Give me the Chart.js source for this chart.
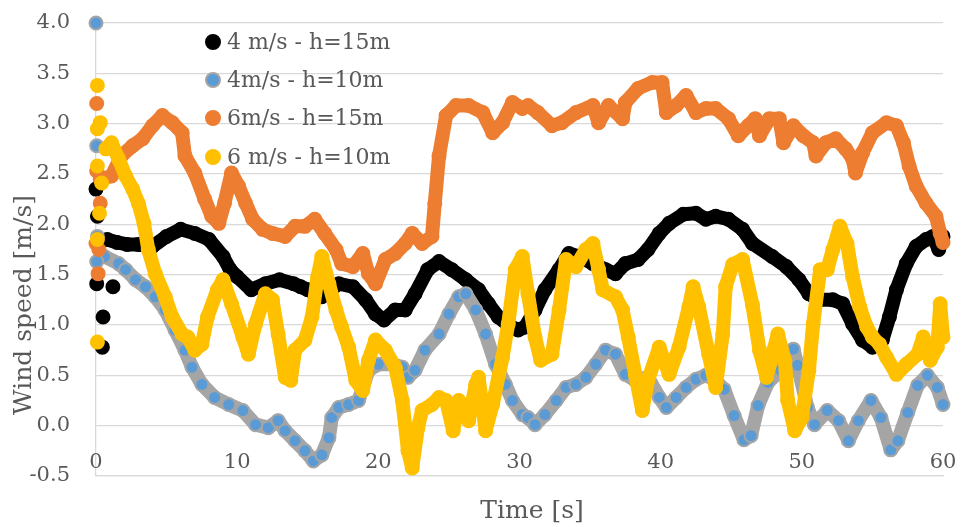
<!DOCTYPE html>
<html>
<head>
<meta charset="utf-8">
<script src="https://cdn.jsdelivr.net/npm/chart.js@4.4.1/dist/chart.umd.min.js"></script>
<style>
  html, body { margin: 0; padding: 0; background: #ffffff; }
  canvas { display: block; }
</style>
</head>
<body>
<canvas id="windChart" width="962" height="527"></canvas>
<script>
// ===== data =====
const seriesNames = ["4 m/s - h=15m", "4m/s - h=10m", "6m/s - h=15m", "6 m/s - h=10m"];
const xTicks = [0, 10, 20, 30, 40, 50, 60];
const yTicks = [-0.5, 0, 0.5, 1, 1.5, 2, 2.5, 3, 3.5, 4];

// loose points right at the start of each record [time, speed]
const blackStart = [[0.0, 2.35], [0.1, 2.08], [0.05, 1.41], [0.5, 1.08], [0.45, 0.78], [1.2, 1.38]];
const grayStart = [[0.0, 4.0], [0.05, 2.78], [0.1, 1.88], [0.05, 1.63]];
const orangeStart = [[0.05, 3.2], [0.05, 2.53], [0.3, 2.21], [0.0, 1.81], [0.2, 1.75], [0.15, 1.51]];
const yellowStart = [[0.1, 3.38], [0.3, 3.01], [0.1, 2.95], [0.1, 2.58], [0.4, 2.41], [0.25, 2.11], [0.1, 1.85], [0.1, 0.83]];

// 4 m/s - h=15m
const blackPts = [
  [0.8,1.85],[1.5,1.82],[2.2,1.8],[3.0,1.8],[4.0,1.78],[5.0,1.88],[6.0,1.95],[7.0,1.91],[8.0,1.85],
  [9.0,1.68],[9.5,1.55],[10.0,1.48],[11.0,1.35],[12.0,1.41],[13.0,1.45],[14.0,1.41],[14.5,1.38],
  [15.0,1.35],[16.0,1.28],[17.2,1.41],[18.2,1.38],[19.1,1.25],[19.8,1.11],[20.4,1.05],[21.2,1.15],
  [21.9,1.15],[22.6,1.31],[23.5,1.55],[24.3,1.63],[25.2,1.55],[26.2,1.45],[27.1,1.35],[27.8,1.21],
  [28.5,1.08],[29.2,1.0],[29.9,0.95],[30.4,0.98],[31.1,1.15],[31.8,1.35],[32.8,1.55],[33.5,1.71],
  [34.2,1.68],[35.2,1.61],[36.1,1.55],[36.8,1.51],[37.5,1.61],[38.4,1.65],[39.1,1.75],[39.9,1.91],
  [40.6,2.01],[41.6,2.1],[42.5,2.11],[43.2,2.05],[43.9,2.08],[44.8,2.05],[45.8,1.95],[46.5,1.81],
  [47.9,1.68],[48.9,1.58],[49.8,1.45],[50.5,1.31],[51.2,1.25],[52.2,1.25],[52.9,1.21],[53.6,1.01],
  [54.3,0.85],[55.0,0.78],[55.7,0.85],[56.2,1.08],[56.7,1.35],[57.4,1.61],[58.1,1.78],[58.8,1.85],
  [59.3,1.88],[59.7,1.75],[60.0,1.88]
];

// 4m/s - h=10m
const grayPts = [
  [0.6,1.68],[1.6,1.61],[2.1,1.55],[2.8,1.45],[3.5,1.38],[4.2,1.28],[4.9,1.15],[5.6,0.95],[6.3,0.75],
  [6.8,0.58],[7.5,0.41],[8.4,0.28],[9.4,0.21],[10.4,0.15],[11.3,0.01],[12.2,-0.02],[12.9,0.05],
  [13.4,-0.05],[14.1,-0.15],[14.8,-0.25],[15.4,-0.35],[16.0,-0.29],[16.5,-0.12],[16.7,0.08],
  [17.2,0.18],[17.9,0.21],[18.6,0.25],[18.9,0.38],[19.3,0.55],[20.0,0.61],[21.0,0.61],[21.7,0.58],
  [22.1,0.48],[22.6,0.55],[23.3,0.75],[24.3,0.91],[25.0,1.11],[25.7,1.28],[26.2,1.31],[26.9,1.15],
  [27.6,0.91],[28.3,0.61],[29.0,0.41],[29.5,0.25],[30.2,0.11],[30.6,0.08],[31.1,0.01],[31.8,0.11],
  [32.6,0.25],[33.3,0.38],[34.0,0.41],[34.7,0.48],[35.4,0.61],[36.1,0.75],[36.8,0.71],[37.5,0.51],
  [38.2,0.45],[39.1,0.48],[39.9,0.28],[40.4,0.18],[41.1,0.28],[41.8,0.38],[42.5,0.46],[43.2,0.5],
  [43.8,0.46],[44.5,0.36],[45.2,0.1],[45.9,-0.14],[46.4,-0.1],[46.9,0.2],[47.6,0.43],[48.5,0.55],
  [49.4,0.76],[49.7,0.6],[50.4,0.18],[50.9,0.01],[51.8,0.15],[52.6,0.05],[53.3,-0.15],[54.0,0.05],
  [54.9,0.25],[55.6,0.08],[56.3,-0.24],[56.8,-0.15],[57.5,0.13],[58.2,0.4],[58.9,0.5],[59.6,0.38],
  [60.0,0.21]
];

// 6m/s - h=15m
const orangePts = [
  [0.3,2.45],[1.1,2.48],[1.8,2.68],[2.6,2.78],[3.3,2.85],[4.0,2.98],[4.7,3.08],[5.4,3.01],[6.1,2.91],
  [6.3,2.68],[7.0,2.51],[7.7,2.25],[8.2,2.08],[8.7,2.01],[9.1,2.21],[9.6,2.51],[10.1,2.38],[10.6,2.21],
  [11.1,2.05],[11.8,1.95],[12.5,1.91],[13.4,1.88],[14.1,1.98],[14.8,1.98],[15.5,2.05],[16.2,1.91],
  [17.0,1.75],[17.4,1.61],[18.2,1.58],[18.9,1.71],[19.3,1.51],[19.8,1.41],[20.5,1.65],[21.2,1.71],
  [21.9,1.81],[22.4,1.91],[23.1,1.81],[23.8,1.88],[24.0,2.21],[24.3,2.68],[24.8,3.08],[25.5,3.18],
  [26.4,3.18],[27.4,3.11],[28.1,2.91],[28.8,3.01],[29.5,3.21],[30.2,3.15],[30.6,3.18],[31.3,3.11],
  [32.3,2.98],[33.0,3.01],[34.0,3.11],[35.2,3.18],[35.6,3.01],[36.3,3.18],[37.3,3.05],[37.5,3.21],
  [38.4,3.35],[39.4,3.41],[40.1,3.41],[40.4,3.11],[41.1,3.18],[41.8,3.28],[42.5,3.11],[43.2,3.15],
  [43.9,3.15],[44.8,3.05],[45.5,2.88],[46.2,2.98],[46.7,3.05],[47.0,2.88],[47.7,3.05],[48.4,3.05],
  [48.7,2.81],[49.4,2.98],[50.1,2.88],[50.8,2.81],[51.0,2.68],[51.7,2.81],[52.4,2.85],[53.1,2.75],
  [53.6,2.65],[53.8,2.51],[54.3,2.71],[55.0,2.91],[56.0,3.01],[56.7,2.98],[57.2,2.81],[57.6,2.58],
  [58.1,2.38],[58.8,2.21],[59.5,2.08],[59.8,1.91],[60.0,1.82]
];

// 6 m/s - h=10m
const yellowPts = [
  [0.7,2.75],[1.1,2.81],[1.6,2.65],[2.1,2.48],[2.6,2.35],[3.0,2.21],[3.4,2.01],[3.7,1.75],[4.2,1.51],
  [4.9,1.28],[5.4,1.08],[6.1,0.91],[6.5,0.88],[7.0,0.75],[7.5,0.81],[7.9,1.08],[8.6,1.35],[9.0,1.45],
  [9.6,1.21],[10.4,0.88],[10.8,0.71],[11.3,1.01],[12.0,1.31],[12.5,1.25],[12.9,0.91],[13.4,0.48],
  [13.8,0.45],[14.1,0.75],[14.8,0.85],[15.3,1.08],[15.7,1.48],[16.0,1.68],[16.5,1.41],[17.0,1.15],
  [17.4,0.98],[17.9,0.78],[18.4,0.45],[18.9,0.35],[19.3,0.65],[19.8,0.85],[20.5,0.75],[21.2,0.58],
  [21.7,0.25],[22.1,-0.25],[22.4,-0.42],[22.8,-0.02],[23.1,0.15],[23.8,0.21],[24.3,0.28],[24.8,0.25],
  [25.3,-0.05],[25.7,0.25],[26.4,0.05],[26.9,0.41],[27.1,0.48],[27.6,-0.05],[28.1,0.21],[28.8,0.68],
  [29.2,1.01],[29.7,1.55],[30.2,1.68],[30.6,1.31],[31.1,0.88],[31.5,0.65],[32.3,0.71],[32.8,1.15],
  [33.3,1.65],[34.0,1.58],[34.7,1.75],[35.2,1.81],[35.6,1.55],[35.9,1.35],[36.8,1.28],[37.3,1.15],
  [37.7,0.88],[38.2,0.51],[38.7,0.15],[39.1,0.45],[39.9,0.78],[40.6,0.51],[41.3,0.78],[42.0,1.18],
  [42.3,1.38],[42.7,1.18],[43.4,0.71],[43.9,0.38],[44.4,0.91],[44.6,1.38],[45.1,1.6],[45.8,1.65],
  [46.5,1.2],[47.0,0.75],[47.5,0.48],[48.0,0.75],[48.3,0.91],[48.8,0.65],[49.0,0.25],[49.5,-0.05],
  [50.0,0.08],[50.5,0.55],[50.8,1.01],[51.3,1.55],[51.8,1.55],[52.2,1.75],[52.7,1.98],[53.2,1.81],
  [53.6,1.48],[54.1,1.18],[54.6,0.98],[55.0,0.88],[55.5,0.81],[56.0,0.68],[56.7,0.51],[57.4,0.61],
  [58.2,0.71],[58.6,0.88],[59.1,0.65],[59.6,0.78],[59.8,1.21],[60.0,0.88]
];

// ===== styles =====
const FONT = "'DejaVu Serif', serif";
const TEXT = "#595959";
const GRID = "#d9d9d9";
const styles = [
    { line: "#000000", fill: "#000000", edge: "#000000" },
    { line: "#a5a5a5", fill: "#5b9bd5", edge: "#a5a5a5" },
    { line: "#ed7d31", fill: "#ed7d31", edge: "#ed7d31" },
    { line: "#ffc000", fill: "#ffc000", edge: "#ffc000" }
];

function toXY(pts) {
    return pts.map(p => ({ x: p[0], y: p[1] }));
}

function traceSet(pts, st, order) {
    return {
        data: toXY(pts),
        showLine: true,
        borderColor: st.line,
        borderWidth: 14,
        borderJoinStyle: "round",
        borderCapStyle: "round",
        pointRadius: 6.5,
        pointBackgroundColor: st.fill,
        pointBorderColor: st.edge,
        pointBorderWidth: 2,
        clip: false,
        order: order
    };
}

function dotSet(pts, st, order) {
    return {
        data: toXY(pts),
        showLine: false,
        pointRadius: 6.5,
        pointBackgroundColor: st.fill,
        pointBorderColor: st.edge,
        pointBorderWidth: 2,
        clip: false,
        order: order
    };
}

// legend, x tick labels and axis titles drawn inside the canvas, Excel style
const extras = {
    id: "extras",
    afterDraw(chart) {
        const ctx = chart.ctx;
        const xs = chart.scales.x;
        ctx.save();
        ctx.fillStyle = TEXT;

        // x tick labels sit just above the bottom line, like the original
        ctx.font = "21px " + FONT;
        ctx.textAlign = "center";
        ctx.textBaseline = "middle";
        xTicks.forEach(v => {
            ctx.fillText(String(v), xs.getPixelForValue(v), chart.chartArea.bottom - 13);
        });

        ctx.font = "22px " + FONT;
        ctx.textAlign = "left";
        const rows = [42, 80, 118, 157];
        seriesNames.forEach((name, i) => {
            ctx.beginPath();
            ctx.arc(213, rows[i], 7, 0, Math.PI * 2);
            ctx.fillStyle = styles[i].fill;
            ctx.fill();
            ctx.lineWidth = 2;
            ctx.strokeStyle = styles[i].edge;
            ctx.stroke();
            ctx.fillStyle = TEXT;
            ctx.fillText(name, 227, rows[i] + 1);
        });

        ctx.font = "25px " + FONT;
        ctx.textAlign = "center";
        ctx.fillText("Time [s]", 532, 511);

        ctx.translate(24, 305);
        ctx.rotate(-Math.PI / 2);
        ctx.fillText("Wind speed [m/s]", 0, 0);
        ctx.restore();
    }
};

const ctx = document.getElementById("windChart").getContext("2d");
window.windChart = new Chart(ctx, {
    type: "scatter",
    data: {
        datasets: [
            traceSet(blackPts, styles[0], 8),
            dotSet(blackStart, styles[0], 7),
            traceSet(grayPts, styles[1], 6),
            dotSet(grayStart, styles[1], 5),
            traceSet(orangePts, styles[2], 4),
            dotSet(orangeStart, styles[2], 3),
            traceSet(yellowPts, styles[3], 2),
            dotSet(yellowStart, styles[3], 1)
        ]
    },
    options: {
        responsive: false,
        animation: false,
        devicePixelRatio: 1,
        layout: { padding: { top: 23, right: 19, bottom: 0, left: 0 } },
        plugins: {
            legend: { display: false },
            tooltip: { enabled: false }
        },
        scales: {
            x: {
                type: "linear",
                min: 0,
                max: 60,
                afterBuildTicks: s => { s.ticks = xTicks.map(v => ({ value: v })); },
                afterFit: s => { s.height = 51; s.paddingLeft = 0; s.paddingRight = 0; },
                grid: { display: false, drawTicks: false },
                border: { display: true, color: GRID, width: 1.3 },
                ticks: { display: false }
            },
            y: {
                min: -0.5,
                max: 4,
                afterBuildTicks: s => { s.ticks = yTicks.map(v => ({ value: v })); },
                // fixed axis width; drop the label padding Chart.js adds above/below
                afterFit: s => { s.width = 96; s.paddingTop = 0; s.paddingBottom = 0; },
                grid: { color: GRID, lineWidth: 1.3, drawTicks: false },
                border: { display: true, color: GRID, width: 1.3 },
                ticks: {
                    padding: 26,
                    color: TEXT,
                    font: { family: FONT, size: 21 },
                    callback: v => v.toFixed(1)
                }
            }
        }
    },
    plugins: [extras]
});
</script>
</body>
</html>
